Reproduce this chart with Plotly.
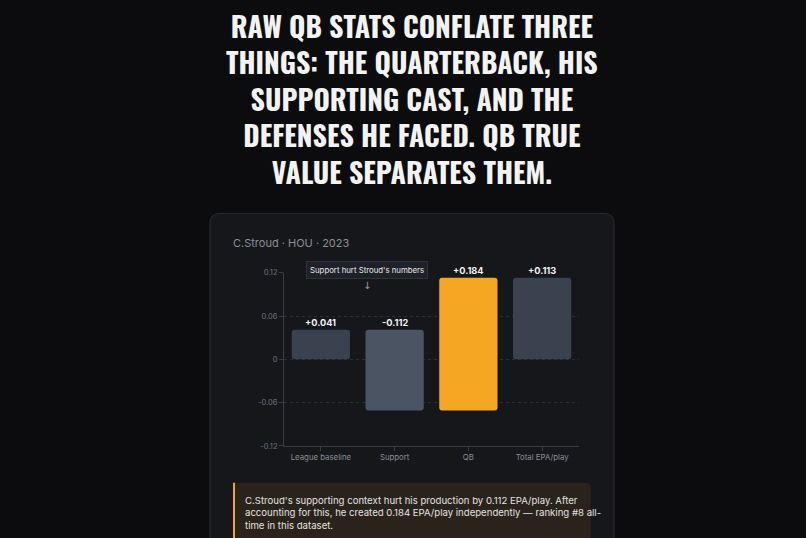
import plotly.graph_objects as go

# ---- data ----
categories = ["League baseline", "Support", "QB", "Total EPA/play"]
steps = [0.041, -0.112, 0.184]          # league baseline, support effect, QB effect
kinds = ["absolute", "relative", "relative", "total"]
bar_colors = ["#3a4250", "#4b5462", "#f5a623", "#3a4250"]
y_ticks = [-0.12, -0.06, 0, 0.06, 0.12]
y_tick_labels = ["-0.12", "-0.06", "0", "0.06", "0.12"]

title_lines = [
    "RAW QB STATS CONFLATE THREE",
    "THINGS: THE QUARTERBACK, HIS",
    "SUPPORTING CAST, AND THE",
    "DEFENSES HE FACED. QB TRUE",
    "VALUE SEPARATES THEM.",
]
subtitle = "C.Stroud · HOU · 2023"
note = "Support hurt Stroud's numbers"
callout_lines = [
    "C.Stroud's supporting context hurt his production by 0.112 EPA/play. After",
    "accounting for this, he created 0.184 EPA/play independently — ranking #8 all-",
    "time in this dataset.",
]

# ---- derive waterfall geometry from data ----
bases, heights, tops, labels = [], [], [], []
running = 0.0
for k, v in zip(kinds, steps + [None]):
    if k == "absolute":
        bases.append(0.0); heights.append(v); running = v
        labels.append(f"{v:+.3f}")
    elif k == "relative":
        bases.append(running); heights.append(v); running += v
        labels.append(f"{v:+.3f}")
    else:
        bases.append(0.0); heights.append(running)
        labels.append(f"{running:+.3f}")
for b, h in zip(bases, heights):
    tops.append(max(b, b + h))

W, H = 806, 538
def px(x): return x / W
def py(y): return 1 - y / H

BG = "#0c0c0e"
CARD = "#16171b"
FONT = "Inter, sans-serif"

fig = go.Figure()
fig.add_trace(go.Bar(
    x=categories, y=heights, base=bases,
    marker=dict(color=bar_colors, line=dict(width=0), cornerradius=3),
    width=0.79, hoverinfo="skip", showlegend=False,
))

annotations = []
# bar value labels
for c, t, lab in zip(categories, tops, labels):
    annotations.append(dict(x=c, y=t, xref="x", yref="y", text=f"<b>{lab}</b>",
                            showarrow=False, yanchor="bottom", yshift=0,
                            font=dict(family=FONT, size=9.2, color="#f2f2f2")))

# title (one multi-line text)
annotations.append(dict(x=px(412), y=py(96.5), xref="paper", yref="paper",
                        text="<br>".join(f"<b>{l}</b>" for l in title_lines),
                        showarrow=False, xanchor="center", yanchor="middle", align="center",
                        font=dict(family="Oswald, Bebas Neue, sans-serif", size=28, color="#f3f3f3")))

# subtitle
annotations.append(dict(x=px(231), y=py(243.5), xref="paper", yref="paper", text=subtitle,
                        showarrow=False, xanchor="left", yanchor="middle",
                        font=dict(family=FONT, size=11, color="#8b8e98")))

# note box
annotations.append(dict(x=px(367), y=py(271), xref="paper", yref="paper", text=note,
                        showarrow=False, xanchor="center", yanchor="middle",
                        bgcolor="#1f2128", bordercolor="#2f3139", borderwidth=1, borderpad=3,
                        font=dict(family=FONT, size=7.8, color="#e6e6e6")))
annotations.append(dict(x=px(367), y=py(286), xref="paper", yref="paper", text="↓",
                        showarrow=False, xanchor="center", yanchor="middle",
                        font=dict(family="DejaVu Sans, sans-serif", size=10, color="#9a9da6")))

# callout text
annotations.append(dict(x=px(243), y=py(518), xref="paper", yref="paper",
                        text="<br>".join(callout_lines),
                        showarrow=False, xanchor="left", yanchor="middle", align="left",
                        font=dict(family=FONT, size=9.6, color="#e2e2e2")))

r = 10
x0, x1, y0, y1 = 210, 614, 213, 560
card_path = (f"M {x0+r},{y0} L {x1-r},{y0} Q {x1},{y0} {x1},{y0+r} L {x1},{y1} "
             f"L {x0},{y1} L {x0},{y0+r} Q {x0},{y0} {x0+r},{y0} Z")
cx0, cx1, cy0, cy1 = 233, 591, 487, 560
r2 = 5
callout_path = (f"M {cx0},{cy0} L {cx1-r2},{cy0} Q {cx1},{cy0} {cx1},{cy0+r2} L {cx1},{cy1} "
                f"L {cx0},{cy1} Z")

def to_paper_path(p):
    out = []
    for t in p.split():
        if "," in t:
            a, b = t.split(",")
            out.append(f"{px(float(a)):.5f},{py(float(b)):.5f}")
        else:
            out.append(t)
    return " ".join(out)

shapes = [
    dict(type="path", xref="paper", yref="paper", path=to_paper_path(card_path), layer="below",
         fillcolor=CARD, line=dict(color="#2a2c32", width=1)),
    dict(type="path", xref="paper", yref="paper", path=to_paper_path(callout_path), layer="below",
         fillcolor="#2a231b", line=dict(width=0)),
    dict(type="rect", xref="paper", yref="paper", x0=px(cx0), x1=px(cx0 + 2), y0=py(cy1), y1=py(cy0),
         fillcolor="#f5a623", line=dict(width=0), layer="below"),
]

fig.update_layout(
    width=W, height=H, margin=dict(l=0, r=0, t=0, b=0),
    paper_bgcolor=BG, plot_bgcolor="rgba(0,0,0,0)",
    xaxis=dict(domain=[px(284), px(579)], range=[-0.5, 3.5], showgrid=False,
               showline=True, linecolor="#3a3c44", linewidth=1,
               ticks="outside", ticklen=4, tickcolor="#3a3c44",
               tickfont=dict(family=FONT, size=7.8, color="#8b8e98"),
               fixedrange=True),
    yaxis=dict(domain=[py(449.5), py(273.3)], range=[-0.12, 0.12],
               tickvals=y_ticks, ticktext=y_tick_labels,
               showgrid=True, gridcolor="#2c2e35", griddash="dot", gridwidth=1,
               zeroline=False, showline=True, linecolor="#3a3c44", linewidth=1,
               ticks="outside", ticklen=4, tickcolor="#3a3c44",
               tickfont=dict(family=FONT, size=7.5, color="#6e717b"),
               fixedrange=True),
    shapes=shapes,
    annotations=annotations,
    font=dict(family=FONT),
)

fig.write_html("out.html")
